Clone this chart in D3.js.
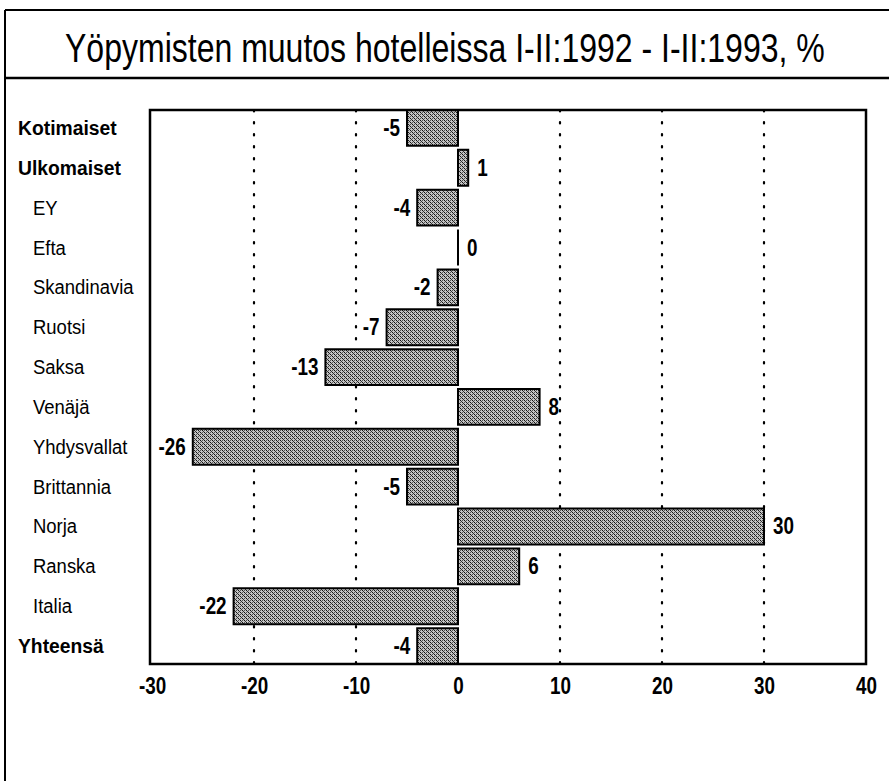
<!DOCTYPE html>
<html><head><meta charset="utf-8">
<script src="https://cdn.jsdelivr.net/npm/d3@7"></script>
<style>body{margin:0;background:#fff}</style>
</head><body>
<svg id="c" width="889" height="781"></svg>
<script>
const titleText = "Yöpymisten muutos hotelleissa I-II:1992 - I-II:1993, %";
const categories = ["Kotimaiset","Ulkomaiset","EY","Efta","Skandinavia","Ruotsi","Saksa","Venäjä","Yhdysvallat","Brittannia","Norja","Ranska","Italia","Yhteensä"];
const values = [-5,1,-4,0,-2,-7,-13,8,-26,-5,30,6,-22,-4];
const boldCats = ["Kotimaiset","Ulkomaiset","Yhteensä"];
const xTicks = [-30,-20,-10,0,10,20,30,40];
const gridTicks = [-20,-10,10,20,30];

const svg = d3.select("#c");
const font = "'Liberation Sans',Arial,sans-serif";
const sx = 0.82;

// pattern
const defs = svg.append("defs");
const pat = defs.append("pattern").attr("id","hatch").attr("patternUnits","userSpaceOnUse").attr("width",4).attr("height",4);
pat.append("rect").attr("width",4).attr("height",4).attr("fill","#c4c4c4");
[[0,0,"#111"],[1,1,"#333"],[2,2,"#111"],[3,3,"#333"],[2,0,"#555"],[0,2,"#555"]].forEach(p=>{
  pat.append("rect").attr("x",p[0]).attr("y",p[1]).attr("width",1).attr("height",1).attr("fill",p[2]);
});

// outer frame
svg.append("line").attr("x1",5).attr("x2",889).attr("y1",10).attr("y2",10).attr("stroke","#000").attr("stroke-width",2);
svg.append("line").attr("x1",5).attr("x2",5).attr("y1",10).attr("y2",781).attr("stroke","#000").attr("stroke-width",2);
svg.append("line").attr("x1",5).attr("x2",889).attr("y1",78).attr("y2",78).attr("stroke","#000").attr("stroke-width",2.5);

const title = svg.append("text")
  .attr("font-family",font).attr("font-size",40).attr("fill","#000").text(titleText);
const tw = title.node().getComputedTextLength();
const ts = 760 / tw;
title.attr("transform",`translate(65,62) scale(${ts},1)`);

const pLeft=152, pRight=866, pTop=110, pBottom=664;
const x = d3.scaleLinear().domain([-30,40]).range([pLeft,pRight]);
const y = d3.scaleBand().domain(categories).range([pTop,pBottom]).paddingInner(0.1).paddingOuter(0);

// grid
const g = svg.append("g");
g.selectAll("line.grid").data(gridTicks).join("line")
  .attr("x1",d=>x(d)).attr("x2",d=>x(d)).attr("y1",pTop).attr("y2",pBottom)
  .attr("stroke","#000").attr("stroke-width",2.2).attr("stroke-dasharray","1.5,10.5").attr("stroke-linecap","round");

// bars (as paths so zero-length bars still show their edge)
g.selectAll("path.bar").data(values).join("path")
  .attr("d",(d,i)=>{
    const y0=y(categories[i]), y1=y0+y.bandwidth(), a=x(0), b=x(d);
    return `M${a},${y0}L${b},${y0}L${b},${y1}L${a},${y1}Z`;
  })
  .attr("fill","url(#hatch)").attr("stroke","#000").attr("stroke-width",2);

// value labels
g.selectAll("text.val").data(values).join("text")
  .attr("transform",(d,i)=>`translate(${d<0 ? x(d)-7 : x(d)+9},${y(categories[i])+y.bandwidth()/2+8}) scale(${sx},1)`)
  .attr("text-anchor",d=>d<0?"end":"start")
  .attr("font-family",font).attr("font-weight","bold").attr("font-size",23).attr("fill","#000")
  .text(d=>String(d));

// frame
svg.append("rect").attr("x",pLeft-2).attr("y",pTop).attr("width",pRight-pLeft+2).attr("height",pBottom-pTop)
  .attr("fill","none").attr("stroke","#000").attr("stroke-width",2.5);

// category labels
svg.selectAll("text.cat").data(categories).join("text")
  .attr("transform",d=>`translate(${boldCats.includes(d)?18:33},${y(d)+y.bandwidth()/2+7}) scale(${boldCats.includes(d)?0.92:0.88},1)`)
  .attr("font-family",font)
  .attr("font-weight",d=>boldCats.includes(d)?"bold":"normal")
  .attr("font-size",21).attr("fill","#000")
  .text(d=>d);

// x axis
const xa = d3.axisBottom(x).tickValues(xTicks).tickSize(0).tickPadding(0).tickFormat(d=>String(d));
const ag = svg.append("g").attr("transform",`translate(0,${pBottom+12})`).call(xa);
ag.select(".domain").remove();
ag.selectAll("text").attr("font-family",font).attr("font-weight","bold").attr("font-size",23).attr("fill","#000")
  .attr("dy","0.8em").attr("transform",`scale(${sx},1)`);
</script>
</body></html>
